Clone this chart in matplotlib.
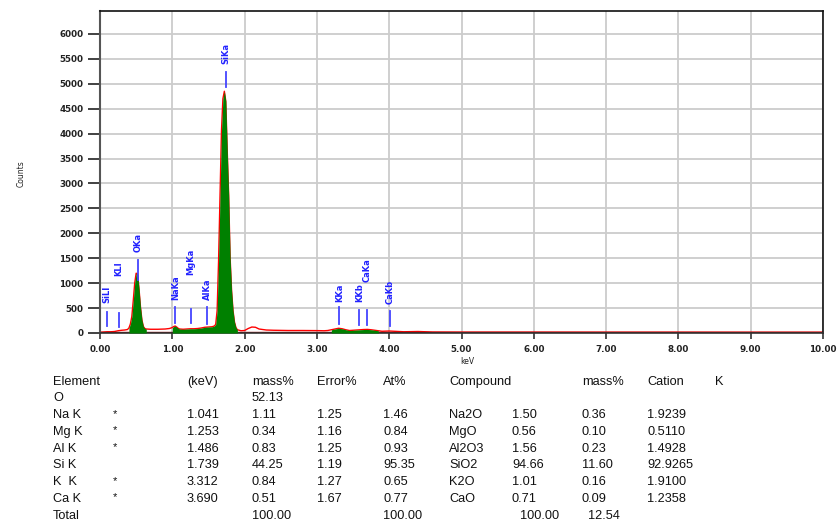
import matplotlib
matplotlib.use("Agg")
import matplotlib.pyplot as plt
import numpy as np

# ---------------- spectrum data ----------------
energy_keV = [0.00, 0.05, 0.10, 0.15, 0.20, 0.25, 0.30, 0.34, 0.38, 0.40, 0.42, 0.44,
              0.46, 0.48, 0.50, 0.52, 0.54, 0.56, 0.58, 0.60, 0.62, 0.64, 0.70, 0.80,
              0.90, 0.96, 1.00, 1.02, 1.04, 1.06, 1.08, 1.10, 1.15, 1.20, 1.25, 1.30,
              1.35, 1.40, 1.45, 1.50, 1.55, 1.58, 1.60, 1.62, 1.64, 1.66, 1.68, 1.70,
              1.72, 1.74, 1.76, 1.78, 1.80, 1.82, 1.84, 1.86, 1.88, 1.90, 1.95, 2.00,
              2.05, 2.10, 2.15, 2.20, 2.25, 2.30, 2.40, 2.60, 2.80, 3.00, 3.10, 3.15,
              3.20, 3.25, 3.30, 3.35, 3.40, 3.45, 3.50, 3.55, 3.60, 3.65, 3.70, 3.75,
              3.80, 3.85, 3.90, 4.00, 4.20, 4.40, 4.60, 5.00, 6.00, 7.00, 8.00, 9.00, 10.00]
counts = [15, 20, 25, 25, 30, 45, 55, 60, 70, 100, 180, 330,
          650, 1000, 1200, 1180, 880, 520, 260, 130, 90, 80, 75, 75,
          80, 90, 110, 130, 140, 120, 95, 80, 75, 80, 85, 85,
          90, 100, 115, 120, 125, 140, 170, 450, 1450, 2750, 4050, 4700,
          4850, 4650, 3650, 2750, 1500, 850, 450, 220, 110, 65, 45, 50,
          90, 120, 115, 80, 70, 60, 55, 50, 50, 48, 45, 50,
          65, 80, 95, 85, 65, 50, 55, 60, 65, 70, 72, 65,
          55, 45, 35, 40, 25, 30, 20, 18, 18, 17, 17, 16, 16]

# peak regions filled in green (keV ranges)
roi_start = [0.40, 0.98, 3.16]
roi_end = [0.64, 1.90, 3.86]

# line markers
line_names = ["SiLl", "KLl", "OKa", "NaKa", "MgKa", "AlKa", "SiKa", "KKa", "KKb", "CaKa", "CaKb"]
line_keV = [0.092, 0.262, 0.525, 1.041, 1.253, 1.486, 1.739, 3.312, 3.589, 3.690, 4.012]
marker_low = [140, 130, 1060, 200, 200, 180, 4930, 190, 160, 160, 140]
marker_high = [430, 400, 1460, 530, 480, 520, 5240, 520, 460, 460, 450]
label_base = [600, 1140, 1620, 660, 1160, 660, 5390, 630, 630, 1030, 590]

# ---------------- table data ----------------
elements = ["O", "Na K", "Mg K", "Al K", "Si K", "K  K", "Ca K"]
starred = ["", "*", "*", "*", "", "*", "*"]
elem_keV = ["", "1.041", "1.253", "1.486", "1.739", "3.312", "3.690"]
mass_pct = ["52.13", "1.11", "0.34", "0.83", "44.25", "0.84", "0.51"]
error_pct = ["", "1.25", "1.16", "1.25", "1.19", "1.27", "1.67"]
at_pct = ["", "1.46", "0.84", "0.93", "95.35", "0.65", "0.77"]
compounds = ["", "Na2O", "MgO", "Al2O3", "SiO2", "K2O", "CaO"]
comp_mass = ["", "1.50", "0.56", "1.56", "94.66", "1.01", "0.71"]
comp_mass2 = ["", "0.36", "0.10", "0.23", "11.60", "0.16", "0.09"]
cation = ["", "1.9239", "0.5110", "1.4928", "92.9265", "1.9100", "1.2358"]
totals = {"mass": "100.00", "at": "100.00", "comp": "100.00", "cat": "12.54"}

x_ticks = [0, 1, 2, 3, 4, 5, 6, 7, 8, 9, 10]
y_ticks = [0, 500, 1000, 1500, 2000, 2500, 3000, 3500, 4000, 4500, 5000, 5500, 6000]

# ---------------- figure ----------------
W, H = 840, 525
fig = plt.figure(figsize=(W / 100, H / 100), dpi=100)
fig.patch.set_facecolor("white")


def fx(px):
    return px / W


def fy(py):
    return 1 - py / H


ax = fig.add_axes([fx(100), fy(333), fx(823) - fx(100), fy(11) - fy(333)])
ax.set_xlim(0, 10)
ax.set_ylim(0, 6460)

E = np.array(energy_keV)
C = np.array(counts)

ax.set_xticks(x_ticks)
ax.set_xticklabels([f"{v:.2f}" for v in x_ticks])
ax.set_yticks(y_ticks)
ax.set_yticklabels([str(v) for v in y_ticks])
ax.grid(True, color="#cccccc", linewidth=1.3, zorder=0)
ax.set_axisbelow(True)

for s in ["top", "right"]:
    ax.spines[s].set_color("#111111")
    ax.spines[s].set_linewidth(1.2)
ax.spines["left"].set_color("#555555")
ax.spines["left"].set_linewidth(1.5)
ax.spines["bottom"].set_color("#333333")
ax.spines["bottom"].set_linewidth(1.2)

ax.tick_params(axis="y", length=9, width=1.3, color="#333333", pad=3,
               labelsize=6.3, labelcolor="#222222")
ax.tick_params(axis="x", length=4, width=1.2, color="#333333", pad=5,
               labelsize=6.3, labelcolor="#222222")
for lbl in ax.get_xticklabels() + ax.get_yticklabels():
    lbl.set_fontweight("bold")

# red full spectrum
ax.plot(E, C, color="#ff0000", linewidth=1.0, zorder=2)
# green regions
for lo, hi in zip(roi_start, roi_end):
    m = (E >= lo) & (E <= hi)
    ax.fill_between(E[m], 0, C[m], color="#008000", linewidth=0, zorder=3)
# bottom dark red base line
ax.plot([0, 10], [22, 22], color="#8b0000", linewidth=1.0, zorder=2.5)

# markers and labels
for name, e, lo, hi, lb in zip(line_names, line_keV, marker_low, marker_high, label_base):
    ax.plot([e, e], [lo, hi], color="#4444ff", linewidth=1.3, zorder=4)
    ax.text(e, lb, name, rotation=90, ha="center", va="bottom", color="#2222ff",
            fontsize=6, fontweight="bold", zorder=5)

fig.text(fx(21), fy(174), "Counts", rotation=90, ha="center", va="center",
         fontsize=5.5, color="#222222")
fig.text(fx(467), fy(362), "keV", ha="center", va="center", fontsize=5.5,
         color="#222222")

# ---------------- table ----------------
tf = dict(fontsize=9.2, family="Liberation Sans", color="#111111", va="center", ha="left")
row0 = 381.7
dy = 16.75
cols = {"el": 53, "star": 113, "kev": 187, "mass": 252, "err": 317, "at": 383,
        "comp": 449, "cmass": 512, "cmass2": 582, "cat": 647, "K": 715}
fig.text(fx(cols["el"]), fy(row0), "Element", **tf)
fig.text(fx(cols["kev"]), fy(row0), "(keV)", **tf)
fig.text(fx(cols["mass"]), fy(row0), "mass%", **tf)
fig.text(fx(cols["err"]), fy(row0), "Error%", **tf)
fig.text(fx(cols["at"]), fy(row0), "At%", **tf)
fig.text(fx(cols["comp"]), fy(row0), "Compound", **tf)
fig.text(fx(cols["cmass2"]), fy(row0), "mass%", **tf)
fig.text(fx(cols["cat"]), fy(row0), "Cation", **tf)
fig.text(fx(cols["K"]), fy(row0), "K", **tf)

for i in range(len(elements)):
    y = fy(row0 + dy * (i + 1))
    fig.text(fx(cols["el"]), y, elements[i], **tf)
    if starred[i]:
        fig.text(fx(cols["star"]), y + 0.003, starred[i],
                 **{**tf, "fontsize": 8})
    fig.text(fx(cols["kev"]), y, elem_keV[i], **tf)
    fig.text(fx(cols["mass"]), y, mass_pct[i], **tf)
    fig.text(fx(cols["err"]), y, error_pct[i], **tf)
    fig.text(fx(cols["at"]), y, at_pct[i], **tf)
    fig.text(fx(cols["comp"]), y, compounds[i], **tf)
    fig.text(fx(cols["cmass"]), y, comp_mass[i], **tf)
    fig.text(fx(cols["cmass2"]), y, comp_mass2[i], **tf)
    fig.text(fx(cols["cat"]), y, cation[i], **tf)

yt = fy(row0 + dy * 8)
fig.text(fx(cols["el"]), yt, "Total", **tf)
fig.text(fx(cols["mass"]), yt, totals["mass"], **tf)
fig.text(fx(cols["at"]), yt, totals["at"], **tf)
fig.text(fx(520), yt, totals["comp"], **tf)
fig.text(fx(588), yt, totals["cat"], **tf)

fig.savefig("out.png", dpi=100)
